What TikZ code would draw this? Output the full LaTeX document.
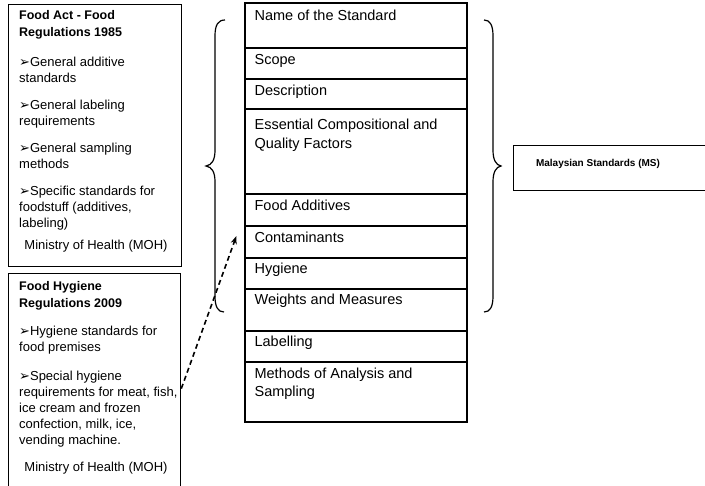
\documentclass[tikz,border=0pt]{standalone}
\usepackage{fontspec}
\setmainfont{Liberation Sans}
\newfontfamily\dingfont{DejaVu Sans}
\usetikzlibrary{arrows.meta,calc}
\newcommand{\pointer}{{\dingfont\fontsize{13}{14}\selectfont\char"27A2}}
\begin{document}
\begin{tikzpicture}[x=1pt,y=-1pt,
  frame/.style={draw, line width=1.3pt, inner sep=0pt, anchor=north west},
  cell/.style={draw, line width=1.2pt, minimum width=222pt, inner sep=0pt},
  celltext/.style={anchor=north west, inner sep=0pt, align=left,
    font=\fontsize{14.5}{18.5}\selectfont},
  lawtext/.style={anchor=north west, inner sep=0pt, align=left,
    font=\fontsize{13}{16}\selectfont},
  lawtitle/.style={lawtext, font=\fontsize{12.5}{17}\selectfont\bfseries},
  curly/.style={line width=1.2pt},
  link/.style={line width=1.6pt, dash pattern=on 5pt off 3.5pt,
    -{Stealth[length=8pt,width=6pt]}}]
\useasboundingbox (0,0) rectangle (705,486);
\fill[white] (0,0) rectangle (705,486);

% regulation boxes on the left
\node[frame, minimum width=173pt, minimum height=262pt] (fa) at (8,4) {};
\node[frame, minimum width=172pt, minimum height=230pt] (fh) at (8,273) {};

\node[lawtitle] (fa-t) at (19,10.5) {Food Act - Food\\Regulations 1985};
\node[lawtext] (fa-1) at (19,56.5) {\pointer General additive\\standards};
\node[lawtext] (fa-2) at (19,99.5) {\pointer General labeling\\requirements};
\node[lawtext] (fa-3) at (19,142.5) {\pointer General sampling\\methods};
\node[lawtext] (fa-4) at (19,185.5) {\pointer Specific standards for\\foodstuff (additives,\\labeling)};
\node[lawtext, anchor=north] (fa-m) at (96,240) {Ministry of Health (MOH)};

\node[lawtitle] (fh-t) at (19,281) {Food Hygiene\\Regulations 2009};
\node[lawtext] (fh-1) at (19,325.5) {\pointer Hygiene standards for\\food premises};
\node[lawtext] (fh-2) at (19,370.5) {\pointer Special hygiene\\requirements for meat, fish,\\ice cream and frozen\\confection, milk, ice,\\vending machine.};
\node[lawtext, anchor=north] (fh-m) at (96,461.5) {Ministry of Health (MOH)};

% structure of a standard
\node[cell, minimum height=45pt] (s1) at (356,25.5) {};
\node[cell, minimum height=31pt] (s2) at (356,63.5) {};
\node[cell, minimum height=30pt] (s3) at (356,94) {};
\node[cell, minimum height=85pt] (s4) at (356,151.5) {};
\node[cell, minimum height=32pt] (s5) at (356,210) {};
\node[cell, minimum height=32pt] (s6) at (356,242) {};
\node[cell, minimum height=31pt] (s7) at (356,273.5) {};
\node[cell, minimum height=42pt] (s8) at (356,310) {};
\node[cell, minimum height=31pt] (s9) at (356,346.5) {};
\node[cell, minimum height=60pt] (s10) at (356,392) {};
\draw[line width=1.6pt] (s1.north west) rectangle (s10.south east);

\node[celltext] (s1-t) at ($(s1.north west)+(10,7)$) {Name of the Standard};
\node[celltext] (s2-t) at ($(s2.north west)+(10,6.5)$) {Scope};
\node[celltext] (s3-t) at ($(s3.north west)+(10,6)$) {Description};
\node[celltext] (s4-t) at ($(s4.north west)+(10,10.5)$) {Essential Compositional and\\Quality Factors};
\node[celltext] (s5-t) at ($(s5.north west)+(10,6)$) {Food Additives};
\node[celltext] (s6-t) at ($(s6.north west)+(10,6)$) {Contaminants};
\node[celltext] (s7-t) at ($(s7.north west)+(10,5.5)$) {Hygiene};
\node[celltext] (s8-t) at ($(s8.north west)+(10,5.5)$) {Weights and Measures};
\node[celltext] (s9-t) at ($(s9.north west)+(10,5.5)$) {Labelling};
\node[celltext] (s10-t) at ($(s10.north west)+(10,6)$) {Methods of Analysis and\\Sampling};

% braces around the shared clauses
\draw[curly] (225,20) .. controls (218,20) and (215,25) .. (215,36) -- (215,150)
  .. controls (215,160) and (212,165) .. (206,166)
  .. controls (212,167) and (215,172) .. (215,182) -- (215,296)
  .. controls (215,307) and (218,312) .. (224,312);
\draw[curly] (484,20) .. controls (490,20) and (493,25) .. (493,36) -- (493,150)
  .. controls (493,160) and (496,165) .. (501,166)
  .. controls (496,167) and (493,172) .. (493,182) -- (493,296)
  .. controls (493,307) and (490,312) .. (484,312);

% Malaysian Standards
\node[frame, line width=1.1pt, minimum width=200pt, minimum height=45pt] (ms) at (513,145) {};
\node[font=\fontsize{10}{12}\selectfont\bfseries, inner sep=0pt] (ms-t) at (598,164) {Malaysian Standards (MS)};

% hygiene regulations feed the contaminants clause
\coordinate (hook) at ($(s6.west)+(-8,-6)$);
\draw[link] (fh.east) -- (hook);
\end{tikzpicture}
\end{document}
